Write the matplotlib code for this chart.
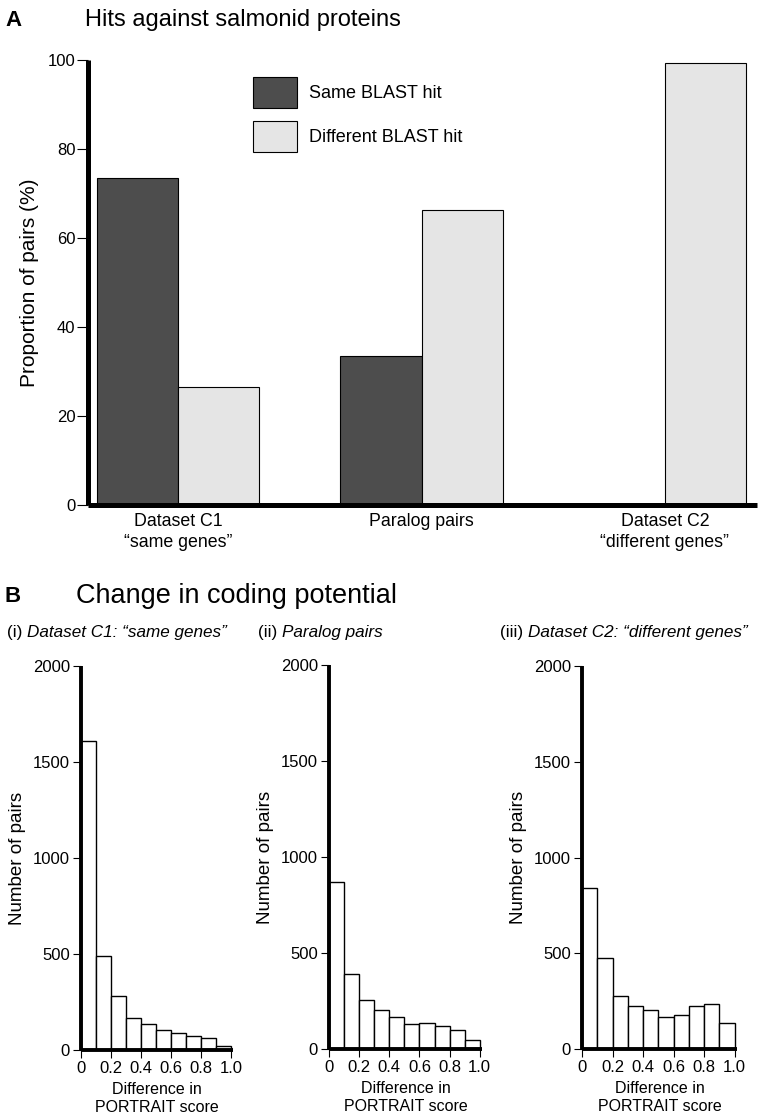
import matplotlib
matplotlib.use("Agg")
import matplotlib.pyplot as plt
import numpy as np

plt.rcParams['font.family'] = ['Liberation Sans', 'DejaVu Sans']

# panel A data
groups = ['Dataset C1\n\u201csame genes\u201d', 'Paralog pairs', 'Dataset C2\n\u201cdifferent genes\u201d']
same_hit = [73.5, 33.5, 0.0]
diff_hit = [26.5, 66.3, 99.4]
yticks_a = [0, 20, 40, 60, 80, 100]

# panel B data (counts per 0.1 bin)
bin_edges = [0.0, 0.1, 0.2, 0.3, 0.4, 0.5, 0.6, 0.7, 0.8, 0.9, 1.0]
c1_counts = [1610, 490, 280, 168, 135, 104, 88, 75, 60, 21]
paralog_counts = [868, 390, 257, 201, 167, 132, 138, 121, 99, 48]
c2_counts = [839, 477, 278, 227, 203, 165, 180, 227, 234, 137]
xticks_b = [0, 0.2, 0.4, 0.6, 0.8, 1.0]
xticklabels_b = ['0', '0.2', '0.4', '0.6', '0.8', '1.0']
yticks_b = [0, 500, 1000, 1500, 2000]

W, H = 760, 1120
fig = plt.figure(figsize=(W / 100, H / 100), dpi=100)


def box(l, t, r, b):
    return [l / W, 1 - b / H, (r - l) / W, (b - t) / H]


def style_axes(ax, lw):
    for s in ['top', 'right']:
        ax.spines[s].set_visible(False)
    for s in ['left', 'bottom']:
        ax.spines[s].set_linewidth(lw)
        ax.spines[s].set_capstyle('butt')


# ---- panel A
ax = fig.add_axes(box(88, 60, 757, 505))
w = 1 / 3
x = np.arange(len(groups))
ax.bar(x - w / 2, same_hit, w, color='#4d4d4d', edgecolor='black', linewidth=0.8, label='Same BLAST hit')
ax.bar(x + w / 2, diff_hit, w, color='#e5e5e5', edgecolor='black', linewidth=0.8, label='Different BLAST hit')
ax.set_xlim(-w - 0.037, 2 + w + 0.045)
ax.set_ylim(0, 100)
ax.set_yticks(yticks_a)
ax.tick_params(axis='y', direction='out', length=8, width=0.8, labelsize=12, pad=1)
ax.set_xticks(x)
ax.set_xticklabels(groups, fontsize=12.8, linespacing=1.3)
ax.tick_params(axis='x', length=0, pad=6)
style_axes(ax, 3.6)
ax.set_ylabel('Proportion of pairs (%)', fontsize=15, labelpad=6)
ax.legend(loc='upper left', bbox_to_anchor=(0.2465, 0.962), frameon=False, fontsize=13,
          borderpad=0, borderaxespad=0,
          handlelength=2.42, handleheight=2.25, labelspacing=0.75, handletextpad=0.66)

fig.text(5 / W, 1 - 20 / H, 'A', fontsize=16, fontweight='bold', va='center')
fig.text(85 / W, 1 - 20 / H, 'Hits against salmonid proteins', fontsize=17, va='center')

# ---- panel B
fig.text(5 / W, 1 - 596 / H, 'B', fontsize=16, fontweight='bold', va='center')
fig.text(76 / W, 1 - 596 / H, 'Change in coding potential', fontsize=19.5, va='center')

hists = [
    (c1_counts, box(81, 666, 233, 1050), '(i) ', 'Dataset C1: \u201csame genes\u201d', 7),
    (paralog_counts, box(329, 665, 482, 1049), '(ii) ', 'Paralog pairs', 258),
    (c2_counts, box(582, 666, 737, 1049), '(iii) ', 'Dataset C2: \u201cdifferent genes\u201d', 500),
]

renderer = fig.canvas.get_renderer()
for counts, rect, num, sub, tx in hists:
    axh = fig.add_axes(rect)
    axh.bar(bin_edges[:-1], counts, width=0.1, align='edge', color='white', edgecolor='black', linewidth=1)
    axh.set_xlim(0, 1.015)
    axh.set_ylim(0, 2000)
    axh.set_xticks(xticks_b)
    axh.set_xticklabels(xticklabels_b)
    axh.set_yticks(yticks_b)
    axh.tick_params(direction='out', length=6, width=0.8, labelsize=12, pad=2)
    style_axes(axh, 2.8)
    axh.set_ylabel('Number of pairs', fontsize=13.5, labelpad=5)
    axh.set_xlabel('Difference in\nPORTRAIT score', fontsize=11.5, labelpad=4, linespacing=1.3)
    t1 = fig.text(tx / W, 1 - 632 / H, num, fontsize=12.3, va='center')
    bb = t1.get_window_extent(renderer)
    fig.text(bb.x1 / W, 1 - 632 / H, sub, fontsize=12.3, va='center', style='italic')

fig.savefig('out.png', dpi=100)
